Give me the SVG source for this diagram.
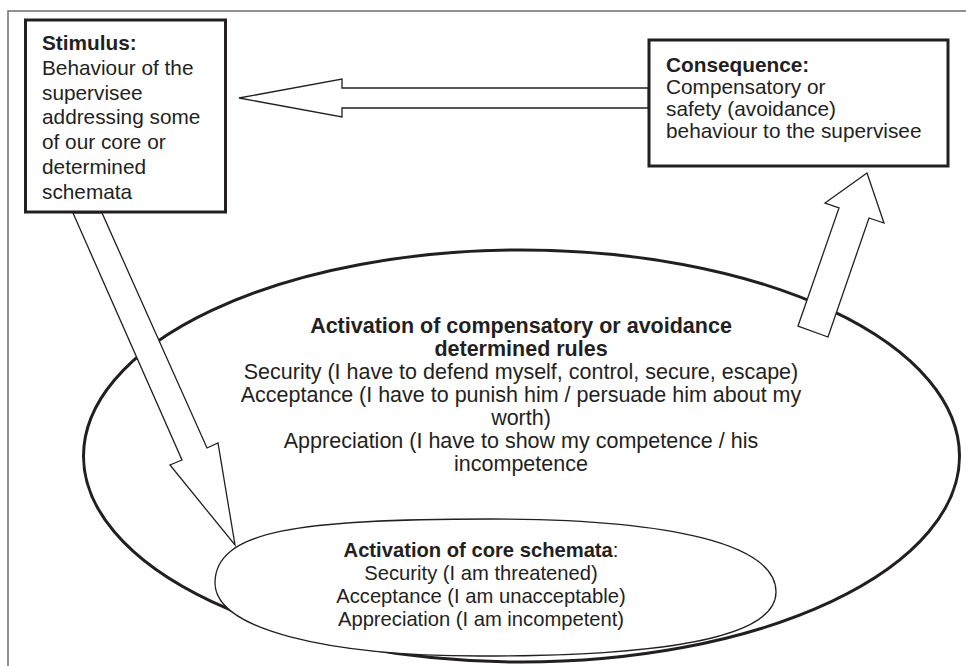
<svg xmlns="http://www.w3.org/2000/svg" width="966" height="666" viewBox="0 0 966 666">
<style>
.t{font-family:"Liberation Sans",Arial,sans-serif;font-size:20.8px;fill:#231f20}
.big{font-size:21.5px}
.sm{font-size:20.2px}
.b{font-weight:bold}
.box{fill:#fff;stroke:#231f20;stroke-width:3}
.ell{fill:#fff;stroke:#231f20}
.arr{fill:#fff;stroke:#231f20;stroke-width:1.3;stroke-linejoin:miter}
.frame{fill:none;stroke:#6d6e71;stroke-width:1.5}
</style>
<rect width="966" height="666" fill="#fff"/>
<path class="frame" d="M8 666V11H966"/>
<g id="stimulus">
<rect class="box" x="25.5" y="20" width="200" height="192"/>
<text class="t"><tspan class="b" x="42" y="50">Stimulus:</tspan><tspan x="42" y="74.8">Behaviour of the</tspan><tspan x="42" y="99.6">supervisee</tspan><tspan x="42" y="124.4">addressing some</tspan><tspan x="42" y="149.2">of our core or</tspan><tspan x="42" y="174">determined</tspan><tspan x="42" y="198.8">schemata</tspan></text>
</g>
<g id="consequence">
<rect class="box" x="649" y="40" width="299" height="126"/>
<text class="t"><tspan class="b" x="666" y="72">Consequence:</tspan><tspan x="666" y="94">Compensatory or</tspan><tspan x="666" y="116">safety (avoidance)</tspan><tspan x="666" y="138">behaviour to the supervisee</tspan></text>
</g>
<g id="rules">
<ellipse class="ell" cx="521.5" cy="456" rx="438" ry="206" stroke-width="3"/>
<text class="t big" text-anchor="middle"><tspan class="b" x="521" y="333">Activation of compensatory or avoidance</tspan><tspan class="b" x="521" y="356">determined rules</tspan><tspan x="521" y="379">Security (I have to defend myself, control, secure, escape)</tspan><tspan x="521" y="402">Acceptance (I have to punish him / persuade him about my</tspan><tspan x="521" y="425">worth)</tspan><tspan x="521" y="448">Appreciation (I have to show my competence / his</tspan><tspan x="521" y="471">incompetence</tspan></text>
</g>
<g id="core">
<path class="ell" stroke-width="1.3" d="M215,583 C215,530 300,519 490,519 C675,519 776,545 776,592 C776,630 700,656 480,656 C330,656 215,630 215,583 Z"/>
<text class="t sm" text-anchor="middle"><tspan x="481" y="557"><tspan class="b">Activation of core schemata</tspan>:</tspan><tspan x="481" y="580">Security (I am threatened)</tspan><tspan x="481" y="603">Acceptance (I am unacceptable)</tspan><tspan x="481" y="626">Appreciation (I am incompetent)</tspan></text>
</g>
<g id="connectors">
<polygon class="arr" points="239,98 342,79 342,88 648,88 648,108 342,108 342,117"/>
<polygon class="arr" points="73,213 182,460 170,465 235,545 218,443 207,448 102,213"/>
<polygon class="arr" points="798,326 839,208 825,203 867,173 884,223 869,218 828,337"/>
</g>
</svg>
